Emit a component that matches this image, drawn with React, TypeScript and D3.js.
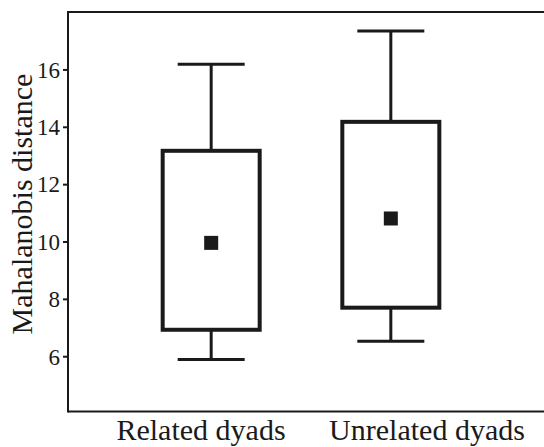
import * as d3 from 'd3';

// box plot summary per group
const categories = ['Related dyads', 'Unrelated dyads'];
const whiskerLow = [5.9, 6.54];
const quartile1 = [6.94, 7.71];
const means = [9.97, 10.82];
const quartile3 = [13.18, 14.19];
const whiskerHigh = [16.2, 17.36];
const yTicks = [6, 8, 10, 12, 14, 16];

export default function App() {
  const width = 544;
  const height = 447;
  const left = 68;
  const top = 12;
  const bottom = 411.5;
  const ink = '#1a1a1a';
  const font = "'Liberation Serif', 'Times New Roman', serif";

  const y = d3.scaleLinear().domain([4.09, 18.02]).range([bottom, top]);
  const x = d3.scalePoint<string>().domain(categories).range([left, 534]).padding(0.797);
  // the category labels sit a little wider apart than the boxes
  const labelX = d3.scalePoint<string>().domain(categories).range([left + 133, left + 359]);

  const boxW = 97;
  const capW = 67;
  const meanSize = 14;

  const rows = categories.map((c, i) => ({
    c,
    lo: whiskerLow[i],
    q1: quartile1[i],
    mean: means[i],
    q3: quartile3[i],
    hi: whiskerHigh[i],
  }));

  return (
    <svg
      width={width}
      height={height}
      style={{ position: 'absolute', left: 0, top: 0, background: '#fff', fontFamily: font }}
    >
      {/* frame: top, left, bottom */}
      <line x1={left} x2={width} y1={top} y2={top} stroke={ink} strokeWidth={2} />
      <line x1={left} x2={left} y1={top - 1} y2={bottom + 1} stroke={ink} strokeWidth={2} />
      <line x1={left} x2={width} y1={bottom} y2={bottom} stroke={ink} strokeWidth={2} />

      {yTicks.map(t => (
        <g key={t}>
          <line x1={left - 5} x2={left} y1={y(t)} y2={y(t)} stroke={ink} strokeWidth={2} />
          <text
            x={left - 8}
            y={y(t)}
            dy="0.34em"
            textAnchor="end"
            fontSize={23}
            fill={ink}
          >
            {t}
          </text>
        </g>
      ))}

      <text
        transform={`translate(32,204) rotate(-90)`}
        textAnchor="middle"
        fontSize={30}
        fill={ink}
      >
        Mahalanobis distance
      </text>

      {rows.map(d => {
        const cx = x(d.c) as number;
        return (
          <g key={d.c}>
            <line x1={cx} x2={cx} y1={y(d.hi)} y2={y(d.q3)} stroke={ink} strokeWidth={3} />
            <line x1={cx} x2={cx} y1={y(d.q1)} y2={y(d.lo)} stroke={ink} strokeWidth={3} />
            <line x1={cx - capW / 2} x2={cx + capW / 2} y1={y(d.hi)} y2={y(d.hi)} stroke={ink} strokeWidth={3} />
            <line x1={cx - capW / 2} x2={cx + capW / 2} y1={y(d.lo)} y2={y(d.lo)} stroke={ink} strokeWidth={3} />
            <rect
              x={cx - boxW / 2}
              y={y(d.q3)}
              width={boxW}
              height={y(d.q1) - y(d.q3)}
              fill="#fff"
              stroke={ink}
              strokeWidth={4}
            />
            <rect
              x={cx - meanSize / 2}
              y={y(d.mean) - meanSize / 2}
              width={meanSize}
              height={meanSize}
              fill={ink}
            />
          </g>
        );
      })}

      {categories.map(c => (
        <text
          key={c}
          x={labelX(c)}
          y={440}
          textAnchor="middle"
          fontSize={30}
          fill={ink}
        >
          {c}
        </text>
      ))}
    </svg>
  );
}
